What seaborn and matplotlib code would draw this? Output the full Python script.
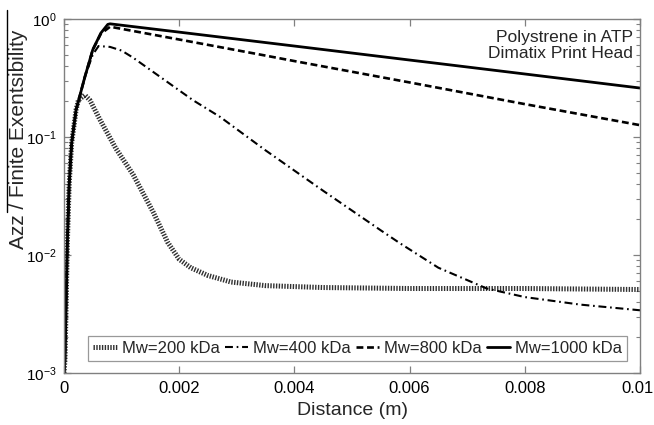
import numpy as np
import pandas as pd
import matplotlib
matplotlib.use("Agg")
import matplotlib.pyplot as plt
from matplotlib.lines import Line2D
from matplotlib.transforms import ScaledTranslation
from matplotlib.ticker import FixedLocator, FixedFormatter, LogLocator, NullFormatter
import seaborn as sns

# ---------------- data ----------------
labels = ["Mw=200 kDa", "Mw=400 kDa", "Mw=800 kDa", "Mw=1000 kDa"]

# shared steep rise near the nozzle
rise_x = [0.0, 0.000017, 0.000035, 0.000058, 0.00009, 0.000133, 0.00021]
rise_y = [0.001, 0.0013, 0.0034, 0.0126, 0.04, 0.089, 0.17]

x_200 = [0.00025, 0.00036, 0.00045, 0.000625, 0.0009, 0.0012, 0.00155, 0.0018,
         0.002, 0.0022, 0.0025, 0.0029, 0.0035, 0.0045, 0.006, 0.008, 0.01]
y_200 = [0.205, 0.227, 0.205, 0.14, 0.08, 0.048, 0.023, 0.0128,
         0.0092, 0.0078, 0.0067, 0.0059, 0.0055, 0.0053, 0.0052, 0.0052, 0.0051]

x_400 = [0.00036, 0.0005, 0.0006, 0.0008, 0.001, 0.0012, 0.00224, 0.00271,
         0.0035, 0.0045, 0.00549, 0.00583, 0.0065, 0.00734, 0.008, 0.00896, 0.01]
y_400 = [0.32, 0.5, 0.59, 0.58, 0.54, 0.47, 0.205, 0.148,
         0.077, 0.035, 0.0163, 0.0126, 0.0078, 0.0052, 0.0044, 0.0038, 0.0034]

x_800 = [0.00036, 0.0005, 0.00064, 0.0008, 0.002, 0.0034, 0.004, 0.006, 0.0065, 0.008, 0.01]
y_800 = [0.32, 0.55, 0.75, 0.86, 0.67, 0.50, 0.44, 0.29, 0.261, 0.19, 0.126]

x_1000 = [0.00036, 0.0005, 0.00064, 0.00076, 0.0008, 0.002, 0.0034, 0.004, 0.006, 0.00653, 0.008, 0.01]
y_1000 = [0.32, 0.55, 0.76, 0.9, 0.91, 0.774, 0.64, 0.59, 0.449, 0.418, 0.342, 0.26]

xtick_vals = [0, 0.002, 0.004, 0.006, 0.008, 0.01]
xtick_labels = ["0", "0.002", "0.004", "0.006", "0.008", "0.01"]
ytick_vals = [1e-3, 1e-2, 1e-1, 1e0]
ytick_labels = [r"$10^{-3}$", r"$10^{-2}$", r"$10^{-1}$", r"$10^{0}$"]

annotation = "Polystrene in ATP\nDimatix Print Head"
xlabel = "Distance (m)"
ylabel = "Azz / Finite Exentsibility"

# ---------------- build frames ----------------
def frame(xs, ys, lab):
    return pd.DataFrame({"x": rise_x + xs, "y": rise_y + ys, "series": lab})

series = [frame(x_200, y_200, labels[0]), frame(x_400, y_400, labels[1]),
          frame(x_800, y_800, labels[2]), frame(x_1000, y_1000, labels[3])]

# ---------------- style ----------------
sns.set_theme(style="ticks")
plt.rcParams["font.family"] = ["Liberation Sans", "DejaVu Sans"]
plt.rcParams["mathtext.fontset"] = "custom"
plt.rcParams["mathtext.rm"] = "Liberation Sans"
plt.rcParams["mathtext.it"] = "Liberation Sans:italic"
plt.rcParams["mathtext.bf"] = "Liberation Sans:bold"

fig = plt.figure(figsize=(6.54, 4.25), dpi=100)
ax = fig.add_axes([64 / 654, 1 - 373 / 425, (640 - 64) / 654, (373 - 19) / 425])

styles = [
    dict(lw=3.6, linestyle=(0, (0.28, 0.28)), color="#303030"),
    dict(lw=1.5, linestyle=(0, (3.8, 1.8, 0.8, 1.8)), color="black"),
    dict(lw=1.9, linestyle=(0, (2.6, 1.4)), color="black"),
    dict(lw=2.0, linestyle="-", color="black"),
]

for df, st in zip(series, styles):
    sns.lineplot(data=df, x="x", y="y", ax=ax, estimator=None, sort=False,
                 label=df["series"].iloc[0], **st)

ax.set_yscale("log")
ax.set_xlim(0, 0.01)
ax.set_ylim(1e-3, 1)

ax.xaxis.set_major_locator(FixedLocator(xtick_vals))
ax.xaxis.set_major_formatter(FixedFormatter(xtick_labels))
ax.yaxis.set_major_locator(FixedLocator(ytick_vals))
ax.yaxis.set_major_formatter(FixedFormatter(ytick_labels))
ax.yaxis.set_minor_locator(LogLocator(base=10, subs=np.arange(2, 10)))
ax.yaxis.set_minor_formatter(NullFormatter())

frame_col = "#808080"
for sp in ax.spines.values():
    sp.set_visible(True)
    sp.set_color(frame_col)
    sp.set_linewidth(1.0)
ax.tick_params(which="both", direction="in", top=True, right=True, color=frame_col,
               labelcolor="black")
ax.tick_params(which="major", length=5, width=0.9)
ax.tick_params(which="minor", length=3, width=0.8)
ax.tick_params(axis="x", pad=6, labelsize=12)
ax.tick_params(axis="y", pad=5, labelsize=11)

ax.set_xlabel(xlabel, fontsize=14, labelpad=4)
ax.set_ylabel("")

fig.text(18.5 / 654, 1 - 139 / 425, ylabel, rotation=90, ha="center", va="center",
         fontsize=15)
fig.add_artist(Line2D([7 / 654, 7 / 654], [1 - 10 / 425, 1 - 212 / 425],
                      transform=fig.transFigure, color="black", lw=1.0))

ax.text(0.988, 0.97, annotation, transform=ax.transAxes, ha="right", va="top",
        fontsize=12.5, linespacing=1.15)

leg = ax.legend(loc="lower center", bbox_to_anchor=(0.51, 0.035), ncol=4,
                fontsize=12, frameon=True, fancybox=False, edgecolor="#808080",
                handlelength=1.4, handletextpad=0.3, columnspacing=0.3,
                borderpad=0.3, borderaxespad=0.0)
leg.get_frame().set_linewidth(0.9)

# keep the last x tick label ("0.01") fully inside the canvas
fig.canvas.draw()
last = ax.xaxis.get_major_ticks()[-1].label1
last.set_transform(last.get_transform() + ScaledTranslation(-3 / 100, 0, fig.dpi_scale_trans))

fig.savefig("out.png", dpi=100)
